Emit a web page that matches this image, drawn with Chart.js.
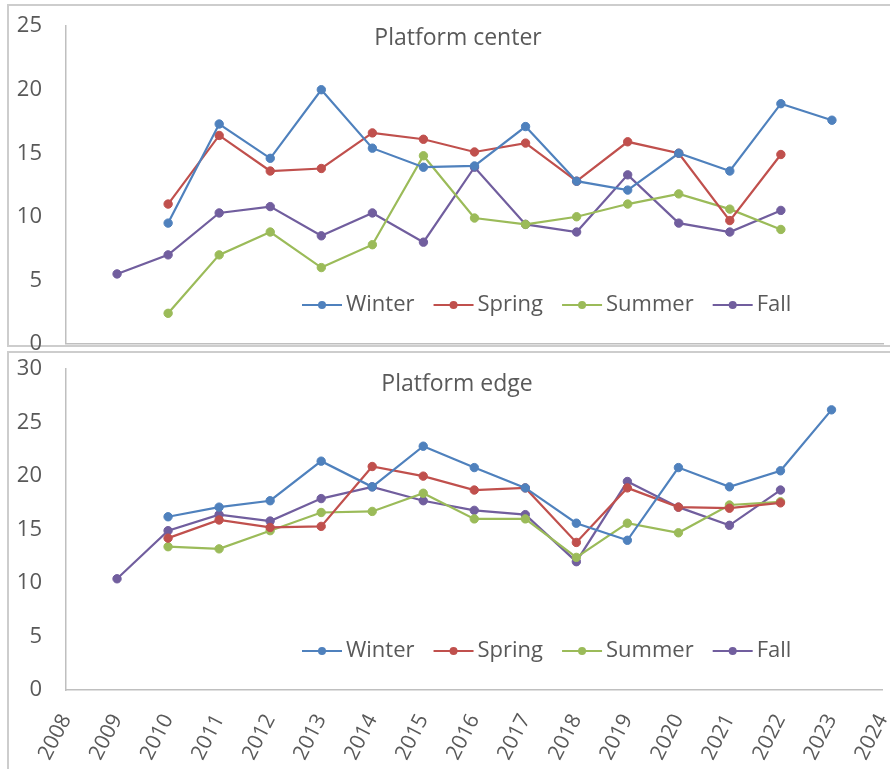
<!DOCTYPE html>
<html>
<head>
<meta charset="utf-8">
<script src="https://cdn.jsdelivr.net/npm/chart.js@4/dist/chart.umd.min.js"></script>
<style>
  html, body { margin: 0; padding: 0; background: #fff; width: 890px; height: 769px; overflow: hidden; position: relative; }
  .frame { position: absolute; border: 2px solid #cdcdcd; box-sizing: border-box; }
  canvas { position: absolute; left: 0; }
</style>
</head>
<body>
<div class="frame" style="left:7px;top:4px;width:900px;height:343px;"></div>
<div class="frame" style="left:7px;top:351px;width:900px;height:440px;"></div>
<canvas id="center" width="890" height="350"></canvas>
<canvas id="edge" width="890" height="420"></canvas>
<script>
// Survey years on the shared horizontal axis
const years = ['2008','2009','2010','2011','2012','2013','2014','2015','2016',
               '2017','2018','2019','2020','2021','2022','2023','2024'];

// Platform center, by season
const winterCenter = [null, null, 9.5, 17.3, 14.6, 20.0, 15.4, 13.9, 14.0, 17.1, 12.8, 12.1, 15.0, 13.6, 18.9, 17.6, null];
const springCenter = [null, null, 11.0, 16.4, 13.6, 13.8, 16.6, 16.1, 15.1, 15.8, 12.8, 15.9, 15.0, 9.7, 14.9, null, null];
const summerCenter = [null, null, 2.4, 7.0, 8.8, 6.0, 7.8, 14.8, 9.9, 9.4, 10.0, 11.0, 11.8, 10.6, 9.0, null, null];
const fallCenter   = [null, 5.5, 7.0, 10.3, 10.8, 8.5, 10.3, 8.0, 13.9, 9.4, 8.8, 13.3, 9.5, 8.8, 10.5, null, null];

// Platform edge, by season
const winterEdge = [null, null, 16.2, 17.1, 17.7, 21.4, 19.0, 22.8, 20.8, 18.9, 15.6, 14.0, 20.8, 19.0, 20.5, 26.2, null];
const springEdge = [null, null, 14.2, 15.9, 15.2, 15.3, 20.9, 20.0, 18.7, 18.9, 13.8, 18.9, 17.1, 17.0, 17.5, null, null];
const summerEdge = [null, null, 13.4, 13.2, 14.9, 16.6, 16.7, 18.4, 16.0, 16.0, 12.4, 15.6, 14.7, 17.3, 17.6, null, null];
const fallEdge   = [null, 10.4, 14.9, 16.4, 15.8, 17.9, 19.0, 17.7, 16.8, 16.4, 12.0, 19.5, 17.1, 15.4, 18.7, null, null];

const seasonNames = ['Winter', 'Spring', 'Summer', 'Fall'];
const seasonColors = ['#4f81bd', '#c0504d', '#9bbb59', '#715e9e'];

const FONT = '"Open Sans", "DejaVu Sans", sans-serif';
const TEXT = '#595959';
const AXIS = '#bfbfbf';

function makeDatasets(series) {
  return series.map((values, i) => ({
    label: seasonNames[i],
    data: values,
    borderColor: seasonColors[i],
    backgroundColor: seasonColors[i],
    pointBackgroundColor: seasonColors[i],
    pointBorderColor: seasonColors[i],
    borderWidth: 2.2,
    pointRadius: 4.2,
    pointBorderWidth: 1,
    tension: 0,
    spanGaps: false
  }));
}

// Panel title and in-plot legend, positioned in page coordinates
const panelDecor = {
  id: 'panelDecor',
  afterDraw(chart, args, opts) {
    const off = chart.$pageTop || 0;
    const ctx = chart.ctx;
    ctx.save();
    ctx.fillStyle = TEXT;
    ctx.font = '23px ' + FONT;
    ctx.textAlign = 'center';
    ctx.textBaseline = 'middle';
    ctx.fillText(opts.title, opts.titleX, opts.titleY - off);

    ctx.font = '22px ' + FONT;
    ctx.textAlign = 'left';
    let x = opts.legendX;
    const y = opts.legendY - off;
    chart.data.datasets.forEach(ds => {
      ctx.strokeStyle = ds.borderColor;
      ctx.lineWidth = 2.2;
      ctx.beginPath();
      ctx.moveTo(x, y);
      ctx.lineTo(x + 40, y);
      ctx.stroke();
      ctx.fillStyle = ds.borderColor;
      ctx.beginPath();
      ctx.arc(x + 20, y, 4, 0, Math.PI * 2);
      ctx.fill();
      ctx.fillStyle = TEXT;
      ctx.fillText(ds.label, x + 44, y);
      x += 44 + ctx.measureText(ds.label).width + 19;
    });
    ctx.restore();
  }
};

function makeChart(id, series, yMax, decor, showX, xHeight) {
  return new Chart(document.getElementById(id), {
    type: 'line',
    data: { labels: years, datasets: makeDatasets(series) },
    plugins: [panelDecor],
    options: {
      responsive: false,
      maintainAspectRatio: false,
      animation: false,
      devicePixelRatio: 1,
      layout: { padding: { top: 0, right: 7, left: 0, bottom: 0 } },
      plugins: {
        legend: { display: false },
        tooltip: { enabled: false },
        panelDecor: decor
      },
      scales: {
        x: {
          type: 'category',
          offset: false,
          grid: { display: false, drawTicks: false },
          border: { display: true, color: AXIS, width: 1.5 },
          ticks: {
            display: showX,
            autoSkip: false,
            minRotation: 63,
            maxRotation: 63,
            padding: 20,
            color: TEXT,
            font: { family: FONT, size: 21 }
          },
          afterFit: s => { s.height = xHeight; }
        },
        y: {
          min: 0,
          max: yMax,
          grid: { display: false, drawTicks: false },
          border: { display: true, color: AXIS, width: 1.5 },
          ticks: {
            stepSize: 5,
            padding: 24,
            color: TEXT,
            font: { family: FONT, size: 22 }
          },
          afterFit: s => { s.width = 66; }
        }
      }
    }
  });
}

// Size and place a chart so that its plot area spans the given page box
function place(chart, areaLeft, areaRight, areaTop, areaBottom) {
  const ca = chart.chartArea;
  const w = Math.round(chart.width + (areaRight - areaLeft) - (ca.right - ca.left));
  const h = Math.round(chart.height + (areaBottom - areaTop) - (ca.bottom - ca.top));
  chart.resize(w, h);
  const top = Math.round(areaTop - chart.chartArea.top);
  const left = Math.round(areaLeft - chart.chartArea.left);
  chart.$pageTop = top;
  chart.canvas.style.top = top + 'px';
  chart.canvas.style.left = left + 'px';
  chart.update('none');
}

const centerChart = makeChart('center', [winterCenter, springCenter, summerCenter, fallCenter], 25,
  { title: 'Platform center', titleX: 458, titleY: 38, legendX: 302, legendY: 305 }, false, 7);
const edgeChart = makeChart('edge', [winterEdge, springEdge, summerEdge, fallEdge], 30,
  { title: 'Platform edge', titleX: 457, titleY: 384, legendX: 302, legendY: 651 }, true, 80);

place(centerChart, 66, 883, 26, 344);
place(edgeChart, 66, 883, 369, 690);
</script>
</body>
</html>
